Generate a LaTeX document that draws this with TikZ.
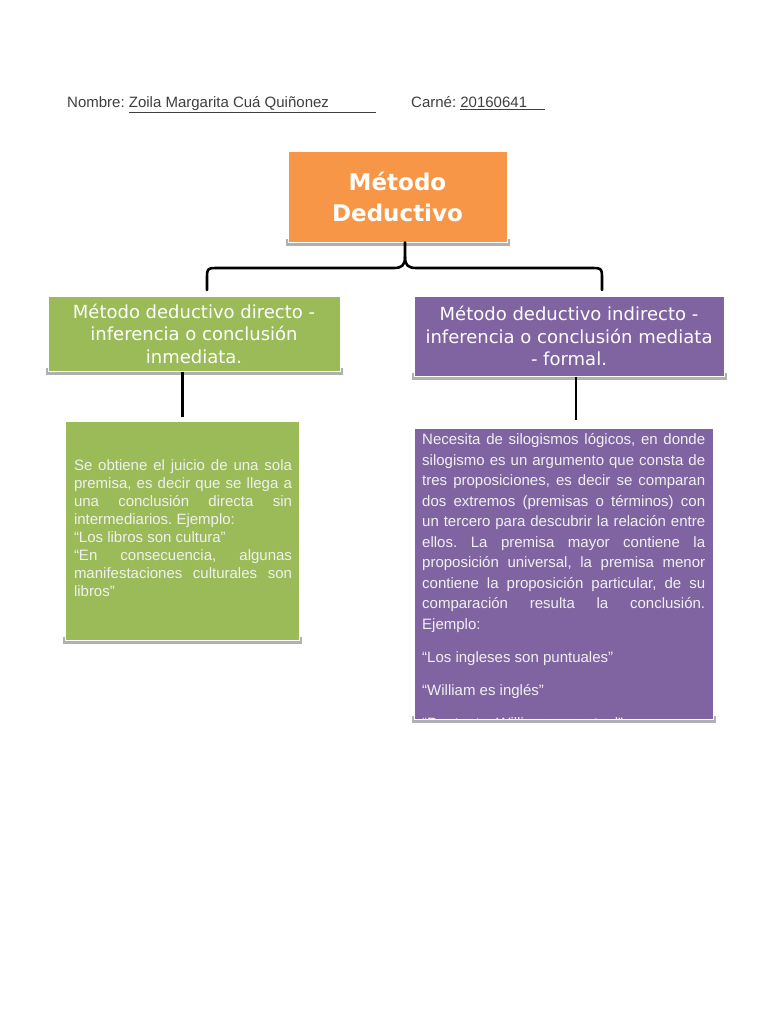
\documentclass[tikz,border=0pt]{standalone}
\usepackage{fontspec}
\setmainfont{Liberation Sans}
\newfontfamily\dejavu{DejaVu Sans}
\usetikzlibrary{backgrounds}
\definecolor{morange}{HTML}{F79646}
\definecolor{mgreen}{HTML}{9BBB59}
\definecolor{mpurple}{HTML}{8064A2}
\definecolor{shadowc}{HTML}{B0B0B0}
\definecolor{headc}{HTML}{3F3F3F}
\begin{document}
\frenchspacing
\begin{tikzpicture}[x=1pt,y=-1pt,
  box/.style={inner sep=0pt, align=center, text=white, draw=white, line width=1pt},
  titlefont/.style={font=\dejavu\fontsize{18}{22.5}\selectfont},
  bodybox/.style={inner sep=0pt, draw=white, line width=1pt},
  bodytext/.style={inner sep=0pt, align=justify, text=white!94!black},
  conn/.style={line width=2.6pt, black, line cap=round},
  head/.style={anchor=base west, inner sep=0pt, text=headc, font=\fontsize{15}{18}\selectfont}]
\useasboundingbox (0,0) rectangle (768,1024);

% header
\node[head] (nombre) at (67,108) {Nombre: \underline{Zoila Margarita Cuá Quiñonez\hspace{47pt}}};
\node[head] (carne) at (411,108) {Carné: \underline{20160641\hspace{18pt}}};

% title boxes
\node[box, fill=morange, minimum width=219pt, minimum height=90pt,
      font=\dejavu\bfseries\fontsize{23}{31}\selectfont] (top) at (397.5,197) {Método\\Deductivo};
\node[box, fill=mgreen, minimum width=292pt, minimum height=75pt, titlefont] (gt) at (194,333.5)
  {Método deductivo directo -\\inferencia o conclusión\\inmediata.};
\node[box, fill=mpurple, minimum width=310pt, minimum height=80pt, titlefont] (pt) at (569,336)
  {Método deductivo indirecto -\\inferencia o conclusión mediata\\- formal.};

% body boxes
\node[bodybox, fill=mgreen, minimum width=234pt, minimum height=219pt] (gb) at (182.5,530.5) {};
\node[bodytext, text width=218pt, font=\fontsize{15}{18}\selectfont] (gbt) at (183,528)
  {Se obtiene el juicio de una sola\linebreak premisa, es decir que se llega a\linebreak una conclusión directa sin\linebreak intermediarios. Ejemplo:\par
   “Los libros son cultura”\par
   “En consecuencia, algunas\linebreak manifestaciones culturales son\linebreak libros”};

\node[bodybox, fill=mpurple, minimum width=299pt, minimum height=291pt] (pb) at (563.5,573.5) {};
\begin{scope}
  \clip (pb.south west) rectangle (pb.north east);
  \node[bodytext, anchor=north west, text width=283pt] (pbt) at (422,433.5)
  {\fontsize{15}{20.5}\selectfont\setlength{\parskip}{12.5pt}\emergencystretch=10pt
   Necesita de silogismos lógicos, en donde\linebreak silogismo es un argumento que consta de\linebreak tres proposiciones, es decir se comparan\linebreak dos extremos (premisas o términos) con\linebreak un tercero para descubrir la relación entre\linebreak ellos. La premisa mayor contiene la\linebreak proposición universal, la premisa menor\linebreak contiene la proposición particular, de su\linebreak comparación resulta la conclusión.\linebreak Ejemplo:\par
   “Los ingleses son puntuales”\par
   “William es inglés”\par
   “Por tanto, William es puntual”\par};
\end{scope}

% connectors
\coordinate (gl) at (207,290);
\coordinate (pr) at (602,290);
\coordinate (cusp) at (top.south -| 405,0);
\draw[conn, line join=round] (gl) -- (207,280) .. controls (207,268) .. (219,268) -- (394,268)
  .. controls (402,268) and (405,265) .. (405,257) -- (cusp);
\draw[conn, line join=round] (405,257) .. controls (405,265) and (408,268) .. (416,268) -- (590,268)
  .. controls (602,268) .. (602,280) -- (pr);
\draw[conn, line cap=butt] (gt.south -| gb.north) -- ([yshift=4pt]gb.north);
\coordinate (pin) at (576,420);
\draw[conn, line cap=butt] (pt.south -| pin) -- (pin);

% background and shadows
\begin{scope}[on background layer]
  \fill[white] (0,0) rectangle (768,1024);
  \foreach \n in {top,gt,pt,gb,pb}
    \fill[shadowc] ([xshift=-2pt,yshift=4pt]\n.south west) rectangle ([xshift=2pt,yshift=-3pt]\n.south east);
\end{scope}
\end{tikzpicture}
\end{document}
